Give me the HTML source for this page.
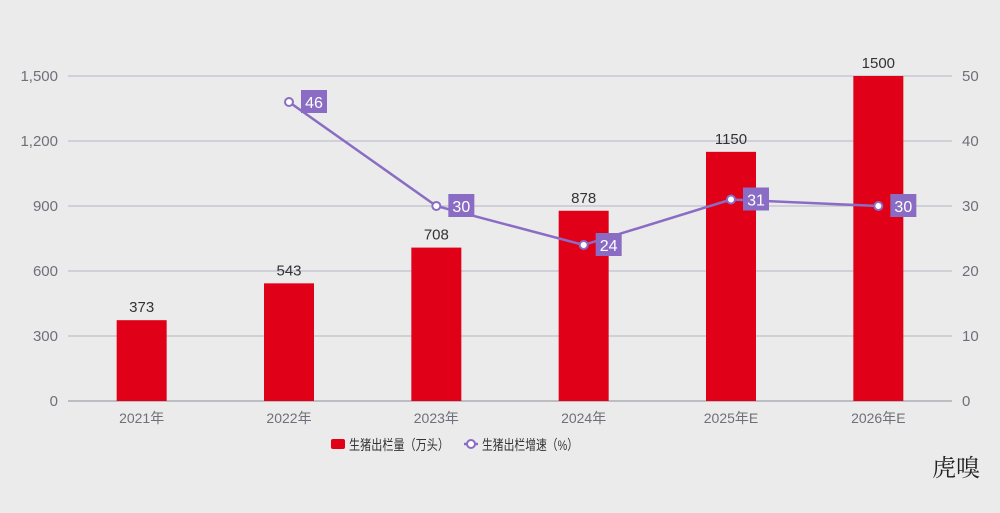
<!DOCTYPE html>
<html><head><meta charset="utf-8"><style>
body{margin:0;background:#ebebeb;width:1000px;height:508px;overflow:hidden;font-family:"Liberation Sans","Noto Sans CJK SC",sans-serif}
</style></head><body>
<svg id="c" width="1000" height="508" xmlns="http://www.w3.org/2000/svg"></svg>
<script>
const categories=["2021年","2022年","2023年","2024年","2025年E","2026年E"];
const barValues=[373,543,708,878,1150,1500];
const barLabels=["373","543","708","878","1150","1500"];
const rateValues=[null,46,30,24,31,30];
const leftTicks=[0,300,600,900,1200,1500];
const leftTickLabels=["0","300","600","900","1,200","1,500"];
const rightTicks=[0,10,20,30,40,50];
const svg=document.getElementById('c');
const NS="http://www.w3.org/2000/svg";
const X0=68,X1=952,Y0=401,Y1=76;
const band=(X1-X0)/categories.length;
const xc=i=>X0+band*(i+0.5);
const yl=v=>Y0-(v/1500)*(Y0-Y1);
const yr=v=>Y0-(v/50)*(Y0-Y1);
function mk(t,a,p){const e=document.createElementNS(NS,t);for(const k in a)e.setAttribute(k,a[k]);(p||svg).appendChild(e);return e;}
leftTicks.forEach((v,i)=>{
 const g=mk('line',{x1:X0,x2:X1,y1:yl(v),y2:yl(v),stroke:i==0?'#8e8e9a':'#b4b4c4','stroke-width':1});
 
 
 const t=mk('text',{x:58,y:yl(v)+5,'text-anchor':'end','font-size':15,fill:'#6e7079'});t.textContent=leftTickLabels[i];
 
 
});
rightTicks.forEach(v=>{
 const t=mk('text',{x:962,y:yr(v)+5,'font-size':15,fill:'#6e7079'});t.textContent=v;
 
 
});
categories.forEach((c,i)=>{
 const t=mk('text',{x:xc(i),y:423,'text-anchor':'middle','font-size':14,fill:'#6e7079'});t.textContent=c;
 
 
 const b=mk('rect',{x:xc(i)-25,y:yl(barValues[i]),width:50,height:Y0-yl(barValues[i]),fill:'#e00018'});
 
 
 const l=mk('text',{x:xc(i),y:yl(barValues[i])-8,'text-anchor':'middle','font-size':15,fill:'#333'});l.textContent=barLabels[i];
 
 
});
let pts=[];rateValues.forEach((v,i)=>{if(v!=null)pts.push(xc(i)+','+yr(v));});
const pl=mk('polyline',{points:pts.join(' '),fill:'none',stroke:'#8a6cc4','stroke-width':2.5});


rateValues.forEach((v,i)=>{if(v==null)return;
 const c=mk('circle',{cx:xc(i),cy:yr(v),r:4,fill:'#fff',stroke:'#8a6cc4','stroke-width':2});
 
 
 const r=mk('rect',{x:xc(i)+12,y:yr(v)-12,width:26,height:23,fill:'#8a6cc4'});
 
 
 const t=mk('text',{x:xc(i)+25,y:yr(v)+6,'text-anchor':'middle','font-size':16,fill:'#fff'});t.textContent=v;
 
 
});
const lg=mk('g',{});


const lr=mk('rect',{x:331,y:439,width:14,height:10,rx:2,fill:'#e00018'},lg);


const lt1=mk('text',{x:349,y:450,'font-size':14,fill:'#333',textLength:100,lengthAdjust:'spacingAndGlyphs'},lg);lt1.textContent='生猪出栏量（万头）';


const ll=mk('line',{x1:464,x2:478,y1:444,y2:444,stroke:'#8a6cc4','stroke-width':2.5},lg);


mk('circle',{cx:471,cy:444,r:4,fill:'#fff',stroke:'#8a6cc4','stroke-width':2},lg);
const lt2=mk('text',{x:482,y:450,'font-size':14,fill:'#333',textLength:96,lengthAdjust:'spacingAndGlyphs'},lg);lt2.textContent='生猪出栏增速（%）';


const logo=mk('text',{x:932,y:476,'font-size':24,fill:'#222','font-family':'Noto Serif CJK SC,serif'});logo.textContent='虎嗅';


</script>
</body></html>
